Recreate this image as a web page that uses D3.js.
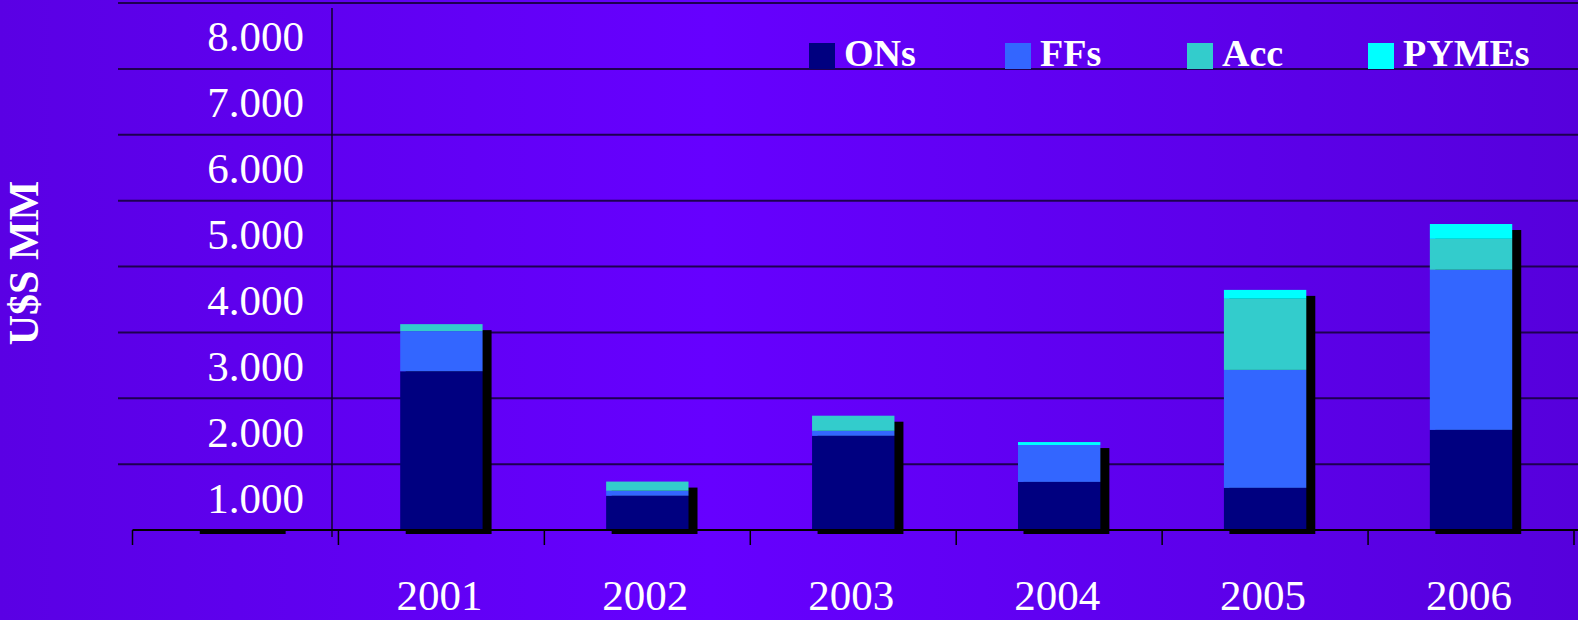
<!DOCTYPE html>
<html>
<head>
<meta charset="utf-8">
<script src="https://cdn.jsdelivr.net/npm/d3@7"></script>
<style>
  html, body { margin: 0; padding: 0; background: #6000f0; }
  svg { display: block; }
</style>
</head>
<body>
<svg id="chart" width="1578" height="620"></svg>
<script>
// ---- data ----
const categories = ["", "2001", "2002", "2003", "2004", "2005", "2006"];
const seriesNames = ["ONs", "FFs", "Acc", "PYMEs"];
const ONs   = [0, 2410,  520, 1430,  730,  640, 1520];
const FFs   = [0,  610,   75,   75,  560, 1790, 2430];
const Acc   = [0,  105,  140,  230,    0, 1080,  470];
const PYMEs = [0,    0,    0,    0,   45,  135,  225];
const yTicks = [1000, 2000, 3000, 4000, 5000, 6000, 7000, 8000];
const seriesColors = ["#000080", "#3366ff", "#33cccc", "#00ffff"];

// ---- layout ----
const W = 1578, H = 620;
const svg = d3.select("#chart");
const defs = svg.append("defs");
const grad = defs.append("linearGradient").attr("id", "bg").attr("x1", "0%").attr("x2", "100%").attr("y1", "0%").attr("y2", "0%");
grad.append("stop").attr("offset", "0%").attr("stop-color", "#5a00e4");
grad.append("stop").attr("offset", "45%").attr("stop-color", "#6600ff");
grad.append("stop").attr("offset", "100%").attr("stop-color", "#5600dc");
svg.append("rect").attr("width", W).attr("height", H).attr("fill", "url(#bg)");

const x = d3.scaleBand().domain(categories).range([132.5, 1574]).paddingInner(0.6).paddingOuter(0.3);
const y = d3.scaleLinear().domain([0, 8000]).range([530, 3]);

const rows = categories.map((c, i) => ({ cat: c, ONs: ONs[i], FFs: FFs[i], Acc: Acc[i], PYMEs: PYMEs[i] }));
const stacked = d3.stack().keys(seriesNames)(rows);
const totals = rows.map(r => r.ONs + r.FFs + r.Acc + r.PYMEs);

// gridlines
svg.append("g").selectAll("line").data(yTicks).join("line")
  .attr("x1", 118).attr("x2", W)
  .attr("y1", d => y(d)).attr("y2", d => y(d))
  .attr("stroke", "#1e0050").attr("stroke-width", 2);

// vertical value-axis line
svg.append("line").attr("x1", 332).attr("x2", 332).attr("y1", 8).attr("y2", 537)
  .attr("stroke", "#10002a").attr("stroke-width", 1.5);

// y tick labels
svg.append("g").selectAll("text").data(yTicks).join("text")
  .attr("x", 304).attr("y", d => y(d - 500)).attr("dy", "0.36em")
  .attr("text-anchor", "end")
  .attr("font-family", "'Liberation Serif', 'DejaVu Serif', serif")
  .attr("font-size", 43).attr("fill", "#ffffff")
  .text(d => d3.format(",")(d).replace(/,/g, "."));

// y axis title
svg.append("text")
  .attr("transform", `translate(38,${263}) rotate(-90)`)
  .attr("text-anchor", "middle")
  .attr("font-family", "'Liberation Serif', 'DejaVu Serif', serif")
  .attr("font-weight", "bold").attr("font-size", 42).attr("fill", "#ffffff")
  .text("U$S MM");

// shadows
const bw = x.bandwidth();
svg.append("g").selectAll("rect").data(rows).join("rect")
  .attr("x", d => x(d.cat) + 5.5)
  .attr("width", bw + 3.5)
  .attr("y", (d, i) => Math.min(y(totals[i]) + 6, y(0)))
  .attr("height", (d, i) => y(0) + 4 - Math.min(y(totals[i]) + 6, y(0)))
  .attr("fill", "#000000");

// stacked bars
svg.append("g").selectAll("g").data(stacked).join("g")
  .attr("fill", (d, i) => seriesColors[i])
  .selectAll("rect").data(d => d.filter(s => s[1] - s[0] > 0)).join("rect")
  .attr("x", d => x(d.data.cat))
  .attr("width", bw)
  .attr("y", d => y(d[1]))
  .attr("height", d => y(d[0]) - y(d[1]));

// x axis baseline and ticks (category boundaries)
const half = (x.step() - bw) / 2;
const tickPositions = categories.map(c => x(c) - half).concat([x("2006") + bw + half]);
svg.append("line").attr("x1", 132.5).attr("x2", W).attr("y1", y(0)).attr("y2", y(0))
  .attr("stroke", "#000000").attr("stroke-width", 2);
svg.append("g").selectAll("line").data(tickPositions).join("line")
  .attr("x1", d => d).attr("x2", d => d)
  .attr("y1", y(0)).attr("y2", y(0) + 15)
  .attr("stroke", "#000000").attr("stroke-width", 1.5);

// x labels
svg.append("g").selectAll("text").data(categories).join("text")
  .attr("x", d => x(d) + bw / 2 - 2)
  .attr("y", 610)
  .attr("text-anchor", "middle")
  .attr("font-family", "'Liberation Serif', 'DejaVu Serif', serif")
  .attr("font-size", 43).attr("fill", "#ffffff")
  .text(d => d);

// legend
const legendX = [809, 1005, 1187, 1368];
const lg = svg.append("g").selectAll("g").data(seriesNames).join("g")
  .attr("transform", (d, i) => `translate(${legendX[i]},43)`);
lg.append("rect").attr("width", 26).attr("height", 26).attr("fill", (d, i) => seriesColors[i]);
lg.append("text").attr("x", 35).attr("y", 23)
  .attr("font-family", "'Liberation Serif', 'DejaVu Serif', serif")
  .attr("font-weight", "bold").attr("font-size", 38).attr("fill", "#ffffff")
  .text(d => d);
</script>
</body>
</html>
